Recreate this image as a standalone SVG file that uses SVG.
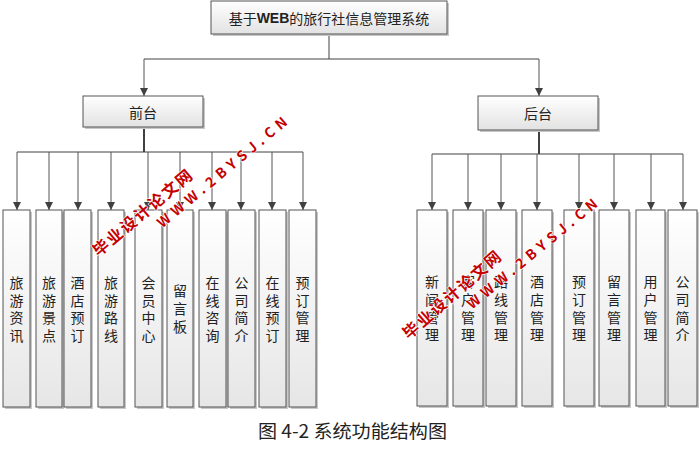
<svg xmlns="http://www.w3.org/2000/svg" width="700" height="452" viewBox="0 0 700 452">
<defs>
<linearGradient id="gTop" x1="0" y1="0" x2="0" y2="1">
<stop offset="0" stop-color="#ffffff"/>
<stop offset="1" stop-color="#e2e2e2"/>
</linearGradient>
<linearGradient id="gLeaf" x1="0" y1="0" x2="0" y2="1">
<stop offset="0" stop-color="#ffffff"/>
<stop offset="1" stop-color="#e6e6e6"/>
</linearGradient>
<marker id="arr" markerUnits="userSpaceOnUse" markerWidth="10" markerHeight="10" refX="8" refY="4" orient="auto">
<path d="M0,0 L8,4 L0,8 Z" fill="#404040"/>
</marker>
</defs>
<style>
.box{stroke:#555;stroke-width:1;fill:url(#gTop)}
.leaf{stroke:#555;stroke-width:1;fill:url(#gLeaf)}
.shadow{fill:#c8c8c8}
.lbl{font-family:"Noto Sans CJK SC","Liberation Sans",sans-serif;font-size:14px;fill:#222;text-anchor:middle;dominant-baseline:central}
.ln{stroke:#404040;stroke-width:1;fill:none}
.lnT{stroke:#404040;stroke-width:2;fill:none}
.ar{stroke:#555;stroke-width:1;fill:none;marker-end:url(#arr)}
.wm{font-family:"Noto Sans CJK SC","Liberation Sans",sans-serif;font-weight:bold;fill:#c40000;text-anchor:middle;dominant-baseline:central;stroke:#ffffff;stroke-width:1.2;paint-order:stroke}
.cap{font-family:"Noto Sans CJK SC","Liberation Serif",serif;font-size:18px;fill:#222;text-anchor:middle;dominant-baseline:central}
</style>
<rect width="700" height="452" fill="#ffffff"/>

<g id="connectors">
<path class="ln" d="M329,34 V59 M144,59 H539"/>
<path class="ar" d="M144,59 V96"/>
<path class="ar" d="M539,59 V96"/>
<path class="lnT" d="M144,127 V152"/>
<path class="ln" d="M17,152 H303"/>
<path class="ar" d="M17,152 V210"/>
<path class="ar" d="M49,152 V210"/>
<path class="ar" d="M78,152 V210"/>
<path class="ar" d="M111,152 V210"/>
<path class="ar" d="M148,152 V210"/>
<path class="ar" d="M180,152 V210"/>
<path class="ar" d="M212,152 V210"/>
<path class="ar" d="M241,152 V210"/>
<path class="ar" d="M272,152 V210"/>
<path class="ar" d="M303,152 V210"/>
<path class="lnT" d="M539,130 V154"/>
<path class="ln" d="M432,154 H683"/>
<path class="ar" d="M432,154 V210"/>
<path class="ar" d="M468,154 V210"/>
<path class="ar" d="M501,154 V210"/>
<path class="ar" d="M537,154 V210"/>
<path class="ar" d="M579,154 V210"/>
<path class="ar" d="M614,154 V210"/>
<path class="ar" d="M651,154 V210"/>
<path class="ar" d="M683,154 V210"/>
</g>

<g id="root">
<rect class="shadow" x="213" y="3" width="236" height="33"/>
<rect class="box" x="211" y="1" width="236" height="33"/>
<text class="lbl" x="329" y="17.5">基于<tspan font-family="'Liberation Sans',sans-serif" font-weight="bold">WEB</tspan>的旅行社信息管理系统</text>
</g>

<g id="front">
<rect class="shadow" x="85" y="98" width="120" height="31"/>
<rect class="box" x="83" y="96" width="120" height="31"/>
<text class="lbl" x="143" y="111.5">前台</text>
</g>

<g id="back">
<rect class="shadow" x="480" y="98" width="120" height="34"/>
<rect class="box" x="478" y="96" width="120" height="34"/>
<text class="lbl" x="538" y="113">后台</text>
</g>

<g id="f1"><rect class="shadow" x="5" y="212" width="27" height="197"/><rect class="leaf" x="3" y="210" width="27" height="197"/>
<text class="lbl"><tspan x="16.5" y="281.8">旅</tspan><tspan x="16.5" y="299.6">游</tspan><tspan x="16.5" y="317.4">资</tspan><tspan x="16.5" y="335.2">讯</tspan></text></g>
<g id="f2"><rect class="shadow" x="38" y="212" width="26" height="197"/><rect class="leaf" x="36" y="210" width="26" height="197"/>
<text class="lbl"><tspan x="49" y="281.8">旅</tspan><tspan x="49" y="299.6">游</tspan><tspan x="49" y="317.4">景</tspan><tspan x="49" y="335.2">点</tspan></text></g>
<g id="f3"><rect class="shadow" x="66" y="212" width="27" height="197"/><rect class="leaf" x="64" y="210" width="27" height="197"/>
<text class="lbl"><tspan x="77.5" y="281.8">酒</tspan><tspan x="77.5" y="299.6">店</tspan><tspan x="77.5" y="317.4">预</tspan><tspan x="77.5" y="335.2">订</tspan></text></g>
<g id="f4"><rect class="shadow" x="100" y="212" width="26" height="197"/><rect class="leaf" x="98" y="210" width="26" height="197"/>
<text class="lbl"><tspan x="111" y="281.8">旅</tspan><tspan x="111" y="299.6">游</tspan><tspan x="111" y="317.4">路</tspan><tspan x="111" y="335.2">线</tspan></text></g>
<g id="f5"><rect class="shadow" x="137" y="212" width="27" height="197"/><rect class="leaf" x="135" y="210" width="27" height="197"/>
<text class="lbl"><tspan x="148.5" y="281.8">会</tspan><tspan x="148.5" y="299.6">员</tspan><tspan x="148.5" y="317.4">中</tspan><tspan x="148.5" y="335.2">心</tspan></text></g>
<g id="f6"><rect class="shadow" x="169" y="212" width="26" height="197"/><rect class="leaf" x="167" y="210" width="26" height="197"/>
<text class="lbl"><tspan x="180" y="290">留</tspan><tspan x="180" y="307.8">言</tspan><tspan x="180" y="325.6">板</tspan></text></g>
<g id="f7"><rect class="shadow" x="201" y="212" width="27" height="197"/><rect class="leaf" x="199" y="210" width="27" height="197"/>
<text class="lbl"><tspan x="212.5" y="281.8">在</tspan><tspan x="212.5" y="299.6">线</tspan><tspan x="212.5" y="317.4">咨</tspan><tspan x="212.5" y="335.2">询</tspan></text></g>
<g id="f8"><rect class="shadow" x="230" y="212" width="27" height="197"/><rect class="leaf" x="228" y="210" width="27" height="197"/>
<text class="lbl"><tspan x="241.5" y="281.8">公</tspan><tspan x="241.5" y="299.6">司</tspan><tspan x="241.5" y="317.4">简</tspan><tspan x="241.5" y="335.2">介</tspan></text></g>
<g id="f9"><rect class="shadow" x="261" y="212" width="27" height="197"/><rect class="leaf" x="259" y="210" width="27" height="197"/>
<text class="lbl"><tspan x="272.5" y="281.8">在</tspan><tspan x="272.5" y="299.6">线</tspan><tspan x="272.5" y="317.4">预</tspan><tspan x="272.5" y="335.2">订</tspan></text></g>
<g id="f10"><rect class="shadow" x="291" y="212" width="27" height="197"/><rect class="leaf" x="289" y="210" width="27" height="197"/>
<text class="lbl"><tspan x="302.5" y="281.8">预</tspan><tspan x="302.5" y="299.6">订</tspan><tspan x="302.5" y="317.4">管</tspan><tspan x="302.5" y="335.2">理</tspan></text></g>

<g id="b1"><rect class="shadow" x="419" y="212" width="30" height="196"/><rect class="leaf" x="417" y="210" width="30" height="196"/>
<text class="lbl"><tspan x="432" y="281">新</tspan><tspan x="432" y="298.8">闻</tspan><tspan x="432" y="316.6">管</tspan><tspan x="432" y="334.4">理</tspan></text></g>
<g id="b2"><rect class="shadow" x="455" y="212" width="30" height="196"/><rect class="leaf" x="453" y="210" width="30" height="196"/>
<text class="lbl"><tspan x="468" y="281">客</tspan><tspan x="468" y="298.8">户</tspan><tspan x="468" y="316.6">管</tspan><tspan x="468" y="334.4">理</tspan></text></g>
<g id="b3"><rect class="shadow" x="488" y="212" width="30" height="196"/><rect class="leaf" x="486" y="210" width="30" height="196"/>
<text class="lbl"><tspan x="501" y="281">路</tspan><tspan x="501" y="298.8">线</tspan><tspan x="501" y="316.6">管</tspan><tspan x="501" y="334.4">理</tspan></text></g>
<g id="b4"><rect class="shadow" x="524" y="212" width="30" height="196"/><rect class="leaf" x="522" y="210" width="30" height="196"/>
<text class="lbl"><tspan x="537" y="281">酒</tspan><tspan x="537" y="298.8">店</tspan><tspan x="537" y="316.6">管</tspan><tspan x="537" y="334.4">理</tspan></text></g>
<g id="b5"><rect class="shadow" x="566" y="212" width="30" height="196"/><rect class="leaf" x="564" y="210" width="30" height="196"/>
<text class="lbl"><tspan x="579" y="281">预</tspan><tspan x="579" y="298.8">订</tspan><tspan x="579" y="316.6">管</tspan><tspan x="579" y="334.4">理</tspan></text></g>
<g id="b6"><rect class="shadow" x="601" y="212" width="30" height="196"/><rect class="leaf" x="599" y="210" width="30" height="196"/>
<text class="lbl"><tspan x="614" y="281">留</tspan><tspan x="614" y="298.8">言</tspan><tspan x="614" y="316.6">管</tspan><tspan x="614" y="334.4">理</tspan></text></g>
<g id="b7"><rect class="shadow" x="638" y="212" width="29" height="196"/><rect class="leaf" x="636" y="210" width="29" height="196"/>
<text class="lbl"><tspan x="650.5" y="281">用</tspan><tspan x="650.5" y="298.8">户</tspan><tspan x="650.5" y="316.6">管</tspan><tspan x="650.5" y="334.4">理</tspan></text></g>
<g id="b8"><rect class="shadow" x="670" y="212" width="29" height="196"/><rect class="leaf" x="668" y="210" width="29" height="196"/>
<text class="lbl"><tspan x="682.5" y="281">公</tspan><tspan x="682.5" y="298.8">司</tspan><tspan x="682.5" y="316.6">简</tspan><tspan x="682.5" y="334.4">介</tspan></text></g>

<g id="caption">
<text class="cap" x="352.5" y="430" textLength="189" lengthAdjust="spacingAndGlyphs">图 4-2 系统功能结构图</text>
</g>

<g id="watermark">
<text class="wm" font-size="16" transform="translate(141.5,212) rotate(-40)" textLength="124" lengthAdjust="spacing">毕业设计论文网</text>
<text class="wm" font-size="14" font-family="'Liberation Sans',sans-serif" transform="translate(221.5,171.5) rotate(-39.7)" textLength="164" lengthAdjust="spacing">WWW.2BYSJ.CN</text>
<text class="wm" font-size="16" transform="translate(451,294) rotate(-41)" textLength="124" lengthAdjust="spacing">毕业设计论文网</text>
<text class="wm" font-size="14" font-family="'Liberation Sans',sans-serif" transform="translate(531.5,253) rotate(-39.5)" textLength="164" lengthAdjust="spacing">WWW.2BYSJ.CN</text>
</g>
</svg>
